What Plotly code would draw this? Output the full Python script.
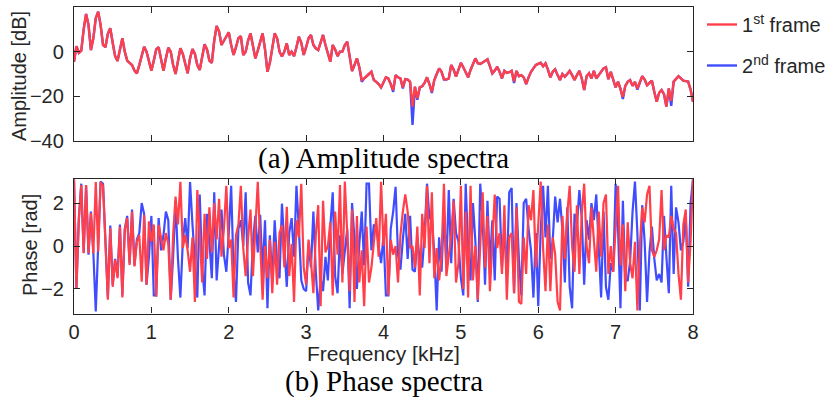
import numpy as np
import plotly.graph_objects as go

# ---------------- data ----------------
bin_hz = 31.25  # 512-point FFT at 16 kHz

amp_frame1 = [
    -4.5, 2.5, -0.5, 0.5, 10, 16.9, 12, 0.7, 6, 15,
    17.9, 12, 3, 2, 8, 10.5, 4, -2, -4.2, 1,
    6, 0, -4, -5, -6, -8.5, -9.7, -6, -2, 2.2,
    0, -5, -8.5, -4, 1, 2, -3, -8.6, -3, 1.8,
    0, -6, -10, -4, 1.5, -1, -6, -9.7, -3, 1.2,
    -1, -6, -8.2, -2, 3.3, 1, -4, -5, 5, 11.5,
    9, 3, 5, 7, 8.7, 3, -1.5, 2, 6, 7,
    -1.5, 0, 5, 8.2, 3, -3, 0.5, 5, 8.2, 1,
    -9, -5, 2, 8.2, 6, 0, -2.2, 0, 3.7, -1.5,
    0, -2, 2, 6.7, 4, -1.5, 2, 6, 7.5, 3,
    1.5, 0.7, 4, 7.5, 3, -1, -4.5, 3, 1, -2,
    0, 0, 3, 4.5, -2, -8.7, -6, -3, -7, -12.7,
    -12, -11.2, -10, -9, -12.7, -13.5, -14.5, -16, -13.5, -11.5,
    -12, -14.5, -17.2, -10.5, -11.5, -12, -16, -12.3, -12.5, -13.5,
    -24.6, -15.7, -20.9, -16, -15.5, -14, -11.5, -14.5, -18, -12.7,
    -10, -7.5, -9, -12.3, -12.5, -12, -6, -8, -11.2, -8,
    -5, -7, -9.5, -11.5, -8.2, -5.5, -3, -5.2, -5.5, -4.8,
    -4.2, -3.4, -6.5, -9.7, -8.5, -6.8, -9, -11.9, -8.6, -9.5,
    -9.2, -8.6, -13.4, -8.6, -11, -10.5, -11.5, -14.5, -11.5, -9,
    -7.5, -6, -5.5, -5, -6.5, -5.2, -8, -11.5, -9, -7.9,
    -10.5, -12.7, -10, -11.2, -10, -8.6, -10.5, -12.7, -10.5, -8.6,
    -12, -17.2, -11, -9.7, -12, -8.6, -12, -10.5, -9, -7.5,
    -7, -12.3, -9, -12.5, -16, -13.4, -16.5, -20.2, -15.3, -13.5,
    -12.7, -15.3, -13.5, -16.5, -13.5, -11, -12.5, -15, -14, -13,
    -18, -22.4, -18.4, -17.2, -19, -24.6, -16.5, -22, -13.4, -12,
    -11, -12, -13, -13.2, -13.4, -17, -22.4,
]

amp_frame2 = [
    -4.5, 2.5, -0.5, 0.5, 10, 16.9, 12, 0.7, 6, 15,
    17.9, 12, 3, 2, 8, 10.5, 4, -2, -4.2, 1,
    6, 0, -4, -5, -6, -8.5, -9.7, -6, -2, 2.2,
    0, -5, -8.5, -4, 1, 2, -3, -8.6, -3, 1.8,
    0, -6, -10, -4, 1.5, -1, -6, -9.7, -3, 1.2,
    -1, -6, -8.2, -2, 3.3, 1, -4, -5, 5, 11.5,
    9, 3, 5, 7, 8.7, 3, -1.5, 2, 6, 7,
    -1.5, 0, 5, 8.2, 3, -3, 0.5, 5, 8.2, 1,
    -9, -5, 2, 8.2, 6, 0, -2.2, 0, 3.7, -1.5,
    0, -2, 2, 6.7, 4, -1.5, 2, 6, 7.5, 3,
    1.5, 0.7, 4, 7.5, 3, -1, -4.5, 3, 1, -2,
    0, 0, 3, 4.5, -2, -8.7, -6, -3, -7, -13.5,
    -12, -11.2, -10, -9, -12.7, -13.5, -14.5, -16, -13.5, -11.5,
    -12, -14.5, -18, -10.5, -11.5, -12, -16.5, -12.3, -12.5, -13.5,
    -32.8, -15.7, -21.5, -16, -15.5, -14, -11.5, -14.5, -18.5, -12.7,
    -10, -7.5, -9, -12.5, -12.5, -12, -6, -8, -11.2, -8,
    -5, -7, -9.5, -11.5, -8.2, -5.5, -3, -5.2, -5.5, -4.8,
    -4.2, -3.4, -6.5, -9.7, -8.5, -6.8, -9, -12, -8.6, -9.5,
    -9.2, -8.6, -14, -8.6, -11, -10.5, -11.5, -14.5, -11.5, -9,
    -7.5, -6, -5.5, -5, -6.5, -5.2, -8, -11.5, -9, -7.9,
    -10.5, -12.7, -10, -11.2, -10, -8.6, -10.5, -12.7, -10.5, -8.6,
    -12, -17.2, -11, -9.7, -12, -8.6, -12, -10.5, -9, -7.5,
    -7, -12.3, -9, -12.5, -16, -13.4, -16.5, -21.2, -15.3, -13.5,
    -12.7, -15.3, -13.5, -17, -13.5, -11, -12.5, -15, -14, -13,
    -18, -22.4, -18.4, -17.2, -19, -24.6, -16.5, -24.3, -13.4, -12,
    -11, -12, -13, -13.2, -13.4, -17, -22.4,
]

phase_frame1 = [
    3.1, -2.0, 1.2, 2.84, -0.33, 2.84, -0.33, 1.53, -0.35, 2.98,
    -0.25, 2.98, 2.8, 0.5, -2.5, 0.84, -1.9, -0.65, -1.5, 0.9,
    -2.4, 0.74, 1.3, -0.88, 1.6, -0.95, 0.2, 0.5, -1.66, 1.44,
    -1.8, 1.15, 0.2, 1.0, -2.36, 0.98, 0.3, -0.2, 0.6, 0.1,
    -2.5, 0.5, 2.3, 1.0, 2.99, -0.1, 0.5, -0.2, -1.2, 0.4,
    -2.6, 2.6, 0.5, -1.7, 1.5, -0.6, 1.8, -0.3, 2.0, 0.3,
    2.2, -0.5, 0.8, 2.8, -0.1, 0.3, -2.4, 0.5, 1.0, 2.8,
    -0.1, -1.4, 0.4, 1.7, -1.4, 0.9, 2.99, 0.2, -2.5, 0.0,
    -1.5, 0.3, -2.2, 0.2, -1.8, 0.6, 0.98, -1.0, 1.83, -1.4,
    0.1, -2.6, 1.2, 0.4, 2.9, -1.0, -1.8, 0.3, -0.7, -2.2,
    0.5, 1.9, -2.8, 2.1, -0.3, 0.0, 1.1, -2.3, 1.6, -0.4,
    2.84, -1.7, 3.0, 0.6, -2.1, 1.7, -2.6, 1.4, -1.7, -0.2,
    -2.8, 0.9, -1.7, -1.0, 0.2, 1.3, -0.5, 2.99, 0.0, 1.5,
    -2.3, 0.3, -0.4, 0.0, -1.7, 0.5, 1.6, 2.4, 1.6, -0.1,
    0.0, -1.0, 0.9, -2.3, 1.5, -0.1, 2.8, -0.8, 2.5, -1.5,
    -0.1, -1.6, -0.5, 2.9, -1.4, -0.5, 0.5, 2.1, -1.7, -0.8,
    2.8, -2.0, 1.6, -2.4, 2.8, -1.6, 0.0, -2.5, 0.4, 2.5,
    -1.0, 1.4, -2.1, 0.5, 2.4, -0.1, 0.6, -1.3, 1.9, -2.5,
    0.4, 0.6, -2.2, 1.8, -2.6, -2.7, 0.4, -1.3, 1.9, 1.2,
    2.6, -1.0, 1.0, 3.0, -0.1, -2.1, 1.0, -2.1, 0.4, -0.4,
    -2.6, -3.0, 1.4, -0.6, 1.5, 2.8, 0.0, -1.2, 1.9, -1.3,
    1.5, 2.9, 0.0, -0.8, 1.8, 0.3, -1.2, 1.6, -0.5, 2.0,
    2.4, -1.3, 0.0, -1.2, 0.8, 2.8, -0.9, 1.0, -2.1, 1.1,
    -0.8, -1.5, 0.2, -3.0, 0.0, 1.8, 1.1, 2.4, 2.8, -0.2,
    -0.5, -0.2, 0.3, 2.6, -0.2, 0.5, 0.4, 1.4, 0.8, 0.6,
    -1.3, -2.5, 1.0, 1.7, -1.7, 0.2, 3.1,
]

phase_frame2 = [
    3.1, -2.0, 1.3, 2.9, -0.3, 2.8, -0.4, 1.6, -0.3, -3.05,
    0.0, 3.0, 2.9, 0.6, -2.4, 0.95, -1.8, -0.6, -1.4, 1.0,
    -2.3, 0.8, 1.4, -0.8, 1.7, -0.9, 0.3, 0.6, 2.0, 1.5,
    -1.8, -0.5, 1.4, -2.3, -2.3, 1.3, -0.2, 0.5, 1.6, 1.2,
    -2.5, -0.5, 2.1, -0.6, -2.4, 0.2, 1.3, -0.1, 2.98, 1.0,
    -0.8, -2.4, 2.4, -1.0, -2.3, 1.5, 0.2, -1.5, 2.5, -1.6,
    0.0, 1.7, -0.4, -1.2, 0.6, 2.8, -1.2, -2.6, 0.8, 1.2,
    0.0, 2.5, -1.7, -2.3, 0.2, 1.4, -0.3, 1.45, -1.3, 1.2,
    -2.9, 0.5, -1.6, 1.2, -0.8, -1.5, 1.97, 0.2, -1.9, 0.6,
    1.3, -0.5, 2.8, 0.8, -1.6, -2.0, -2.1, 0.1, -1.0, 1.6,
    -1.2, -3.0, -1.5, -2.1, -0.5, -1.6, 0.9, 2.5, -1.4, -2.2,
    0.5, -1.3, -0.2, 0.8, -2.9, 2.0, 0.3, -2.0, 0.1, 1.6,
    -0.9, 2.9, 2.9, -0.2, 1.0, 0.9, 0.0, -0.8, 0.5, -2.3,
    -2.3, 0.8, 1.6, 2.75, -0.4, -1.1, 0.3, 1.5, -0.6, 1.4,
    -1.1, -1.2, 0.4, -0.7, -1.0, 0.6, 2.9, 1.3, 1.2, -0.3,
    -3.0, 0.4, -1.2, 1.6, -0.9, 2.6, -0.8, 2.2, 0.6, 0.2,
    -1.5, -2.3, 2.9, -0.1, -1.6, 2.0, 0.2, -2.6, 2.9, 1.2,
    -1.8, 2.1, -0.9, 1.2, -1.6, 2.3, 2.2, -1.0, 0.8, -1.3,
    2.5, 2.7, -2.2, 2.0, -0.6, -2.3, 2.0, 2.2, 0.8, -0.2,
    -2.4, 0.6, -2.8, 0.7, 2.8, 0.4, 2.8, -0.6, 0.3, 2.3,
    1.1, 2.2, 0.7, -1.7, 1.8, -1.9, -2.9, 1.5, 1.0, 2.6,
    1.3, -1.8, 1.2, 0.3, 2.0, 1.2, 2.4, -0.4, -2.4, 1.6,
    -1.9, -2.5, -0.8, -1.2, 2.9, 0.8, -2.9, 2.1, -1.6, -1.6,
    -0.7, 1.6, 3.0, 0.6, -3.0, 1.9, 0.2, -2.6, -0.3, 0.9,
    -0.6, -1.6, -1.3, -1.7, 1.4, -0.5, -2.2, 2.8, -1.3, 1.8,
    1.1, -0.2, 0.2, 1.4, -1.9, 2.0, 3.1,
]

freq_khz = np.arange(len(amp_frame1)) * bin_hz / 1000.0

x_ticks = [0, 1, 2, 3, 4, 5, 6, 7, 8]
amp_ticks = [-40, -20, 0, 20]
phase_ticks = [-2, 0, 2]

red = "#FF3F4A"
blue = "#3F4DFF"
ink = "#262626"

# ---------------- figure ----------------
fig = go.Figure()

fig.add_trace(go.Scatter(x=freq_khz, y=amp_frame2, mode="lines", name="2<sup>nd</sup> frame",
                         line=dict(color=blue, width=2.4), legendgroup="b", legendrank=2,
                         xaxis="x", yaxis="y"))
fig.add_trace(go.Scatter(x=freq_khz, y=amp_frame1, mode="lines", name="1<sup>st</sup> frame",
                         line=dict(color=red, width=2.4), legendgroup="a", legendrank=1,
                         xaxis="x", yaxis="y"))
fig.add_trace(go.Scatter(x=freq_khz, y=phase_frame2, mode="lines", showlegend=False,
                         line=dict(color=blue, width=2.2), xaxis="x2", yaxis="y2"))
fig.add_trace(go.Scatter(x=freq_khz, y=phase_frame1, mode="lines", showlegend=False,
                         line=dict(color=red, width=2.2), xaxis="x2", yaxis="y2"))

W, H = 834, 401
x0, x1 = 74 / W, 693 / W

axis_common = dict(showline=True, linecolor=ink, linewidth=1.3, mirror="ticks",
                   ticks="inside", ticklen=6, tickwidth=1.2, tickcolor=ink,
                   showgrid=False, zeroline=False, automargin=False,
                   tickfont=dict(family="Liberation Sans", size=20, color=ink))


def minus_labels(vals):
    return [("\u2212" + str(-v)) if v < 0 else str(v) for v in vals]


fig.update_layout(
    width=W, height=H,
    margin=dict(l=0, r=0, t=0, b=0, autoexpand=False),
    paper_bgcolor="white", plot_bgcolor="white",
    font=dict(family="Liberation Sans", color=ink),
    xaxis=dict(domain=[x0, x1], range=[0, 8], tickvals=x_ticks, showticklabels=False,
               anchor="y", **axis_common),
    yaxis=dict(domain=[1 - 141 / H, 1 - 7 / H], range=[-40, 20], tickvals=amp_ticks,
               ticktext=minus_labels(amp_ticks), anchor="x", ticklabelstandoff=5,
               **axis_common),
    xaxis2=dict(domain=[x0, x1], range=[0, 8], tickvals=x_ticks, anchor="y2",
                ticklabelstandoff=0, **axis_common),
    yaxis2=dict(domain=[1 - 313.5 / H, 1 - 178.5 / H], range=[-np.pi, np.pi],
                tickvals=phase_ticks, ticktext=minus_labels(phase_ticks),
                anchor="x2", ticklabelstandoff=5, **axis_common),
    legend=dict(x=702 / W, y=1 - 5 / H, xanchor="left", yanchor="top",
                font=dict(family="Liberation Sans", size=20, color=ink),
                tracegroupgap=12, bgcolor="rgba(0,0,0,0)", traceorder="grouped"),
    showlegend=True,
    annotations=[
        dict(text="Amplitude [dB]", x=19 / W, y=1 - 76 / H, xref="paper", yref="paper",
             textangle=-90, showarrow=False, xanchor="center", yanchor="middle",
             font=dict(family="Liberation Sans", size=20, color=ink)),
        dict(text="Phase [rad]", x=30 / W, y=1 - 245 / H, xref="paper", yref="paper",
             textangle=-90, showarrow=False, xanchor="center", yanchor="middle",
             font=dict(family="Liberation Sans", size=20, color=ink)),
        dict(text="Frequency [kHz]", x=(x0 + x1) / 2, y=1 - 353 / H, xref="paper", yref="paper",
             showarrow=False, xanchor="center", yanchor="middle",
             font=dict(family="Liberation Sans", size=21, color=ink)),
        dict(text="(a) Amplitude spectra", x=(x0 + x1) / 2, y=1 - 158 / H, xref="paper", yref="paper",
             showarrow=False, xanchor="center", yanchor="middle",
             font=dict(family="Liberation Serif", size=29, color="black")),
        dict(text="(b) Phase spectra", x=(x0 + x1) / 2, y=1 - 381 / H, xref="paper", yref="paper",
             showarrow=False, xanchor="center", yanchor="middle",
             font=dict(family="Liberation Serif", size=29, color="black")),
    ],
)

fig.write_html("out.html")
